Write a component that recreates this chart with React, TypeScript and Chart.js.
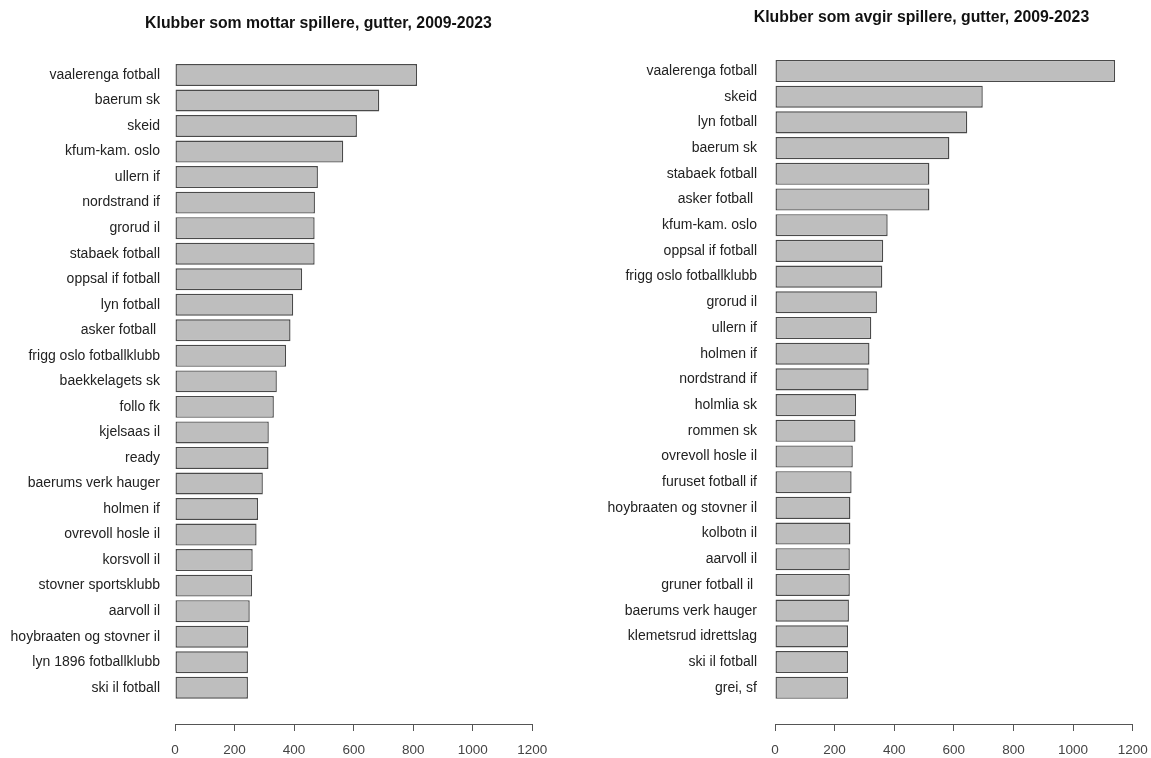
import React, { useEffect, useRef } from 'react';
import { Chart, registerables } from 'chart.js';

Chart.register(...registerables);

const leftTitle = 'Klubber som mottar spillere, gutter, 2009-2023';
const leftClubs = [
  'vaalerenga fotball', 'baerum sk', 'skeid', 'kfum-kam. oslo', 'ullern if',
  'nordstrand if', 'grorud il', 'stabaek fotball', 'oppsal if fotball', 'lyn fotball',
  'asker fotball ', 'frigg oslo fotballklubb', 'baekkelagets sk', 'follo fk', 'kjelsaas il',
  'ready', 'baerums verk hauger', 'holmen if', 'ovrevoll hosle il', 'korsvoll il',
  'stovner sportsklubb', 'aarvoll il', 'hoybraaten og stovner il', 'lyn 1896 fotballklubb', 'ski il fotball',
];
const leftValues = [
  813, 686, 611, 565, 480,
  470, 469, 469, 427, 397,
  388, 373, 342, 332, 315,
  314, 295, 279, 274, 261,
  259, 251, 246, 245, 245,
];

const rightTitle = 'Klubber som avgir spillere, gutter, 2009-2023';
const rightClubs = [
  'vaalerenga fotball', 'skeid', 'lyn fotball', 'baerum sk', 'stabaek fotball',
  'asker fotball ', 'kfum-kam. oslo', 'oppsal if fotball', 'frigg oslo fotballklubb', 'grorud il',
  'ullern if', 'holmen if', 'nordstrand if', 'holmlia sk', 'rommen sk',
  'ovrevoll hosle il', 'furuset fotball if', 'hoybraaten og stovner il', 'kolbotn il', 'aarvoll il',
  'gruner fotball il ', 'baerums verk hauger', 'klemetsrud idrettslag', 'ski il fotball', 'grei, sf',
];
const rightValues = [
  1141, 697, 645, 585, 518,
  518, 378, 363, 360, 342,
  323, 317, 314, 272, 270,
  261, 257, 253, 253, 251,
  251, 248, 245, 245, 245,
];

const xMin = 0;
const xMax = 1200;
const xStep = 200;

const FONT = '"Liberation Sans", Arial, Helvetica, sans-serif';

type Panel = {
  title: string;
  clubs: string[];
  values: number[];
  left: number;
  width: number;
  padTop: number;
  padRight: number;
  axisWidth: number;
  labelGap: number;
  titleX: number;
  titleY: number;
  yMin: number;
  yMax: number;
};

const panels: Panel[] = [
  {
    title: leftTitle, clubs: leftClubs, values: leftValues,
    left: 0, width: 580, padTop: 62.2, padRight: 47.7, axisWidth: 175, labelGap: 15,
    titleX: 318.5, titleY: 23.5, yMin: -0.5, yMax: 25.42,
  },
  {
    title: rightTitle, clubs: rightClubs, values: rightValues,
    left: 580, width: 571, padTop: 58.15, padRight: 18.3, axisWidth: 195, labelGap: 18,
    titleX: 341.5, titleY: 17.5, yMin: -0.5, yMax: 25.41,
  },
];

const HEIGHT = 758;

const panelTitle = {
  id: 'panelTitle',
  afterDraw(chart: any, _args: any, opts: any) {
    const ctx = chart.ctx;
    ctx.save();
    ctx.font = `bold ${opts.size}px ${FONT}`;
    ctx.fillStyle = opts.color;
    ctx.textAlign = 'center';
    ctx.textBaseline = 'middle';
    ctx.fillText(opts.text, opts.x, opts.y);
    ctx.restore();
  },
};

function BarPanel({ p }: { p: Panel }) {
  const ref = useRef<HTMLCanvasElement | null>(null);
  useEffect(() => {
    if (!ref.current) return;
    const chart = new Chart(ref.current, {
      type: 'bar',
      data: {
        datasets: [
          {
            data: p.values.map((v, i) => ({ x: v, y: i })),
            backgroundColor: '#bebebe',
            borderColor: '#4a4a4a',
            borderWidth: 1.4,
            borderSkipped: false,
            barPercentage: 0.86,
            categoryPercentage: 1,
          },
        ],
      },
      plugins: [panelTitle],
      options: {
        indexAxis: 'y',
        responsive: false,
        animation: false,
        devicePixelRatio: 1,
        layout: { padding: { left: 0, right: p.padRight, top: p.padTop, bottom: 0 } },
        plugins: {
          legend: { display: false },
          tooltip: { enabled: false },
          title: { display: false },
          panelTitle: { text: p.title, x: p.titleX, y: p.titleY, size: 15.8, color: '#111' },
        },
        scales: {
          x: {
            type: 'linear',
            min: xMin,
            max: xMax,
            afterFit: (s: any) => {
              s.height = 34;
              s.paddingLeft = 0;
              s.paddingRight = 0;
            },
            ticks: {
              stepSize: xStep,
              color: '#444',
              padding: 11,
              font: { family: FONT, size: 13.5 },
              callback: (v: any) => String(v),
              maxRotation: 0,
            },
            grid: {
              display: true,
              drawOnChartArea: false,
              drawTicks: true,
              tickLength: 7,
              color: '#555',
            },
            border: { display: true, color: '#555', width: 1 },
          },
          y: {
            type: 'linear',
            reverse: true,
            bounds: 'data',
            offset: false,
            min: p.yMin,
            max: p.yMax,
            afterBuildTicks: (s: any) => {
              s.ticks = p.clubs.map((_, i) => ({ value: i }));
              s.min = p.yMin;
              s.max = p.yMax;
            },
            afterFit: (s: any) => {
              s.width = p.axisWidth;
              s.paddingTop = 0;
              s.paddingBottom = 0;
            },
            ticks: {
              color: '#222',
              padding: p.labelGap,
              autoSkip: false,
              font: { family: FONT, size: 14 },
              callback: (v: any) => p.clubs[v as number],
            },
            grid: { display: false, drawTicks: false, offset: false },
            border: { display: false },
          },
        },
      },
    } as any);
    return () => chart.destroy();
  }, [p]);
  return (
    <canvas
      ref={ref}
      width={p.width}
      height={HEIGHT}
      style={{ position: 'absolute', left: p.left, top: 0, width: p.width, height: HEIGHT }}
    />
  );
}

export default function App() {
  return (
    <div style={{ position: 'fixed', left: 0, top: 0, width: 1151, height: HEIGHT, background: '#fff' }}>
      {panels.map((p, i) => (
        <BarPanel key={i} p={p} />
      ))}
    </div>
  );
}
